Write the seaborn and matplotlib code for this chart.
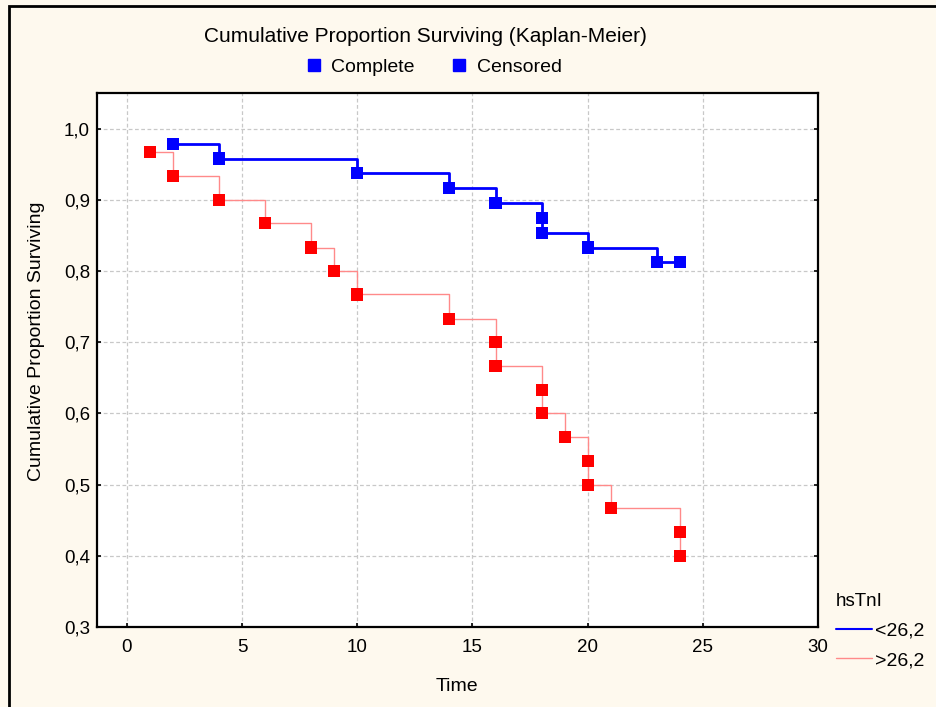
import numpy as np
import pandas as pd
import matplotlib
matplotlib.use("Agg")
import matplotlib.pyplot as plt
from matplotlib.lines import Line2D
from matplotlib.patches import Rectangle
from matplotlib.ticker import FuncFormatter, MultipleLocator
import seaborn as sns

# --- Data ---
low_time = [2, 4, 10, 14, 16, 18, 18, 20, 23, 24]
low_surv = [0.979, 0.958, 0.938, 0.917, 0.896, 0.875, 0.854, 0.833, 0.813, 0.813]
high_time = [1, 2, 4, 6, 8, 9, 10, 14, 16, 16, 18, 18, 19, 20, 20, 21, 24, 24]
high_surv = [0.967, 0.933, 0.900, 0.867, 0.833, 0.800, 0.767, 0.733, 0.700,
             0.667, 0.633, 0.600, 0.567, 0.533, 0.500, 0.467, 0.433, 0.400]
group_names = ["<26,2", ">26,2"]
legend_title = "hsTnI"

BG = "#fef9ee"
BLUE = "#0000ff"
RED = "#ff0000"
RED_LINE = "#ff8a8a"
FS = 13.5

sns.set_theme(style="white")
plt.rcParams["font.family"] = ["Liberation Sans", "DejaVu Sans"]
plt.rcParams["text.color"] = "black"
plt.rcParams["axes.labelcolor"] = "black"

low = pd.DataFrame({"Time": low_time, "Surv": low_surv})
high = pd.DataFrame({"Time": high_time, "Surv": high_surv})

fig = plt.figure(figsize=(9.36, 7.07), dpi=100, facecolor=BG)
ax = fig.add_axes([97 / 936, 80 / 707, (818 - 97) / 936, (627 - 93) / 707])
ax.set_facecolor("white")

# frame around the whole graph window
fig.patches.append(Rectangle((9 / 936, -0.05), 1.2, (707 - 6) / 707 + 0.05,
                             transform=fig.transFigure, fill=False,
                             edgecolor="black", linewidth=2, zorder=0))

# step lines
sns.lineplot(data=low, x="Time", y="Surv", ax=ax, sort=False, estimator=None,
             drawstyle="steps-post", color=BLUE, linewidth=2.0, zorder=3)
sns.lineplot(data=high, x="Time", y="Surv", ax=ax, sort=False, estimator=None,
             drawstyle="steps-post", color=RED_LINE, linewidth=1.0, zorder=3)

# markers
sns.scatterplot(data=low, x="Time", y="Surv", ax=ax, marker="s", s=75,
                color=BLUE, edgecolor="none", zorder=4)
sns.scatterplot(data=high, x="Time", y="Surv", ax=ax, marker="s", s=75,
                color=RED, edgecolor="none", zorder=4)

ax.set_xlim(-1.3, 30)
ax.set_ylim(0.3, 1.05)
ax.xaxis.set_major_locator(MultipleLocator(5))
ax.set_yticks([0.3, 0.4, 0.5, 0.6, 0.7, 0.8, 0.9, 1.0])
ax.yaxis.set_major_formatter(FuncFormatter(lambda v, p: f"{v:.1f}".replace(".", ",")))
ax.xaxis.set_major_formatter(FuncFormatter(lambda v, p: f"{v:g}"))
ax.grid(True, color="#c8c8c8", linestyle=(0, (3, 2)), linewidth=0.9)
ax.tick_params(axis="both", direction="in", length=3, width=1.2, labelsize=FS,
               colors="black", right=True, bottom=True, left=True)
ax.tick_params(axis="x", pad=9)
ax.tick_params(axis="y", pad=5)
for sp in ax.spines.values():
    sp.set_color("black")
    sp.set_linewidth(1.6)

ax.set_xlabel("Time", fontsize=FS + 0.5)
ax.set_ylabel("Cumulative Proportion Surviving", fontsize=FS + 0.5)
ax.xaxis.set_label_coords((457 - 97) / 721, -(678 - 627) / 534)
ax.yaxis.set_label_coords(-(97 - 45) / 721, (627 - 341) / 534)

fig.text(425 / 936, 1 - 37 / 707, "Cumulative Proportion Surviving (Kaplan-Meier)",
         ha="center", va="center", fontsize=FS + 1.5)

top_handles = [Line2D([], [], marker="s", color=BLUE, linestyle="none", markersize=8),
               Line2D([], [], marker="s", color=BLUE, linestyle="none", markersize=8)]
fig.legend(top_handles, ["Complete", "Censored"], loc="center",
           bbox_to_anchor=(433 / 936, 1 - 67 / 707), ncol=2, frameon=False,
           fontsize=FS + 0.5, handletextpad=0.4, columnspacing=1.8, handlelength=1.0)

grp_handles = [Line2D([], [], color=BLUE, linewidth=1.5),
               Line2D([], [], color=RED_LINE, linewidth=1.0)]
leg = fig.legend(grp_handles, group_names, loc="upper left",
                 bbox_to_anchor=(818 / 936, 1 - 576 / 707), frameon=False,
                 fontsize=FS + 0.5, title=legend_title, title_fontsize=FS,
                 handlelength=1.9, handletextpad=0.15, labelspacing=0.6,
                 alignment="left")

fig.savefig("out.png", dpi=100, facecolor=BG)
